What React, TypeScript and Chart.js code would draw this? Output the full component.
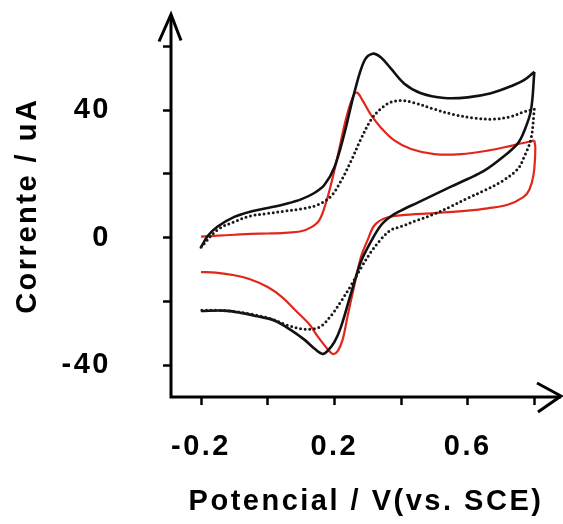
import React, { useEffect, useRef } from "react";
import { Chart, registerables } from "chart.js";

Chart.register(...registerables);

// Cyclic voltammograms: potential (V vs. SCE) against current (uA)

// Solid black curve, anodic (forward) sweep
const blackFwdE = [-0.2, -0.18, -0.15, -0.1, -0.05, 0.0, 0.05, 0.1, 0.14, 0.17, 0.2, 0.23, 0.26, 0.29, 0.315, 0.34, 0.37, 0.41, 0.46, 0.53, 0.6, 0.67, 0.73, 0.77, 0.8];
const blackFwdI = [-3, 0.5, 3.5, 6.5, 8.2, 9.3, 10.5, 12, 14, 16.5, 22, 32.6, 45.5, 55.5, 57.7, 56.5, 53, 48.3, 45.3, 43.8, 44, 45.3, 47.5, 49.5, 52];
// Solid black curve, cathodic (reverse) sweep
const blackRevE = [0.8, 0.79, 0.77, 0.75, 0.7, 0.65, 0.6, 0.55, 0.5, 0.45, 0.4, 0.37, 0.34, 0.31, 0.28, 0.25, 0.22, 0.2, 0.18, 0.165, 0.14, 0.11, 0.07, 0.02, -0.03, -0.08, -0.13, -0.2];
const blackRevI = [52, 40, 33.5, 29.5, 24.8, 21, 18.4, 16, 13.5, 11, 8.5, 6.7, 3.9, -1.2, -7.5, -17.5, -28, -32.8, -35.5, -36.5, -34.8, -32, -29, -26, -24.7, -23.6, -22.9, -23];

// Dotted black curve
const dottedFwdE = [-0.2, -0.15, -0.1, -0.05, 0.0, 0.05, 0.1, 0.15, 0.19, 0.22, 0.25, 0.28, 0.31, 0.34, 0.37, 0.4, 0.44, 0.5, 0.56, 0.62, 0.68, 0.73, 0.77, 0.8];
const dottedFwdI = [-3, 2.5, 5, 6.8, 7.6, 8.3, 9, 10.3, 13, 17.8, 24, 31, 37, 40.5, 42.5, 43, 42.3, 40.3, 38.6, 37.5, 37.2, 38, 39.5, 40.3];
const dottedRevE = [0.8, 0.79, 0.77, 0.75, 0.7, 0.65, 0.6, 0.55, 0.5, 0.45, 0.4, 0.37, 0.34, 0.31, 0.28, 0.25, 0.22, 0.19, 0.16, 0.13, 0.1, 0.06, 0.01, -0.05, -0.1, -0.15, -0.2];
const dottedRevI = [40.3, 31, 25.5, 21.5, 17.5, 14.8, 12.4, 9.8, 7.4, 5.5, 3.5, 2.4, -0.5, -4.5, -9.5, -15, -20, -24.5, -27.8, -28.7, -28.6, -27.5, -25.5, -24, -23.2, -22.8, -22.8];

// Red curve
const redFwdE = [-0.2, -0.15, -0.1, -0.05, 0.0, 0.05, 0.1, 0.13, 0.155, 0.175, 0.195, 0.215, 0.235, 0.255, 0.268, 0.285, 0.31, 0.34, 0.38, 0.43, 0.5, 0.58, 0.66, 0.73, 0.78, 0.8];
const redFwdI = [0.3, 0.6, 0.9, 1.2, 1.3, 1.5, 2, 3.2, 5.5, 11, 18.8, 28, 37.3, 44, 45.5, 43, 38.5, 34.5, 30.5, 27.8, 26.2, 26.2, 27.3, 28.8, 30, 30.5];
const redRevE = [0.8, 0.803, 0.798, 0.785, 0.767, 0.72, 0.66, 0.6, 0.5, 0.4, 0.35, 0.32, 0.3, 0.28, 0.26, 0.24, 0.225, 0.21, 0.196, 0.18, 0.15, 0.125, 0.08, 0.045, 0.0, -0.055, -0.1, -0.156, -0.2];
const redRevI = [30.5, 28, 20, 15, 12.7, 10.3, 9.2, 8.5, 7.7, 7, 6, 3.8, -0.7, -6, -15, -24.5, -32, -35.6, -36.5, -35, -31, -27.2, -22.5, -18.8, -15.5, -13, -11.8, -11, -10.8];

// Axis ticks and the subset of them that carry a label
const xTicks = [-0.2, 0, 0.2, 0.4, 0.6, 0.8];
const xTickLabels = ["-0.2", "", "0.2", "", "0.6", ""];
const yTicks = [-40, -20, 0, 20, 40, 60];
const yTickLabels = ["-40", "", "0", "", "40", ""];

const xTitle = "Potencial / V(vs. SCE)";
const yTitle = "Corrente / uA";

const toPoints = (xs: number[], ys: number[]) => xs.map((x, i) => ({ x, y: ys[i] }));

const labelFor = (ticks: number[], labels: string[]) => (value: number) => {
  const i = ticks.findIndex((t) => Math.abs(t - value) < 1e-6);
  return i >= 0 ? labels[i] : "";
};

const FONT = "'Liberation Sans', Arial, Helvetica, sans-serif";

// Axis lines with open arrowheads at their far ends
const axisArrows = {
  id: "axisArrows",
  beforeDraw(chart: any) {
    chart.ctx.letterSpacing = "2.5px";
  },
  afterDraw(chart: any) {
    const { ctx, chartArea } = chart;
    const { left, right, top, bottom } = chartArea;
    ctx.save();
    ctx.strokeStyle = "#000";
    ctx.lineWidth = 3;
    ctx.lineCap = "butt";
    ctx.lineJoin = "miter";
    ctx.beginPath();
    ctx.moveTo(left, bottom + 1.5);
    ctx.lineTo(left, top + 1);
    ctx.moveTo(left - 1.5, bottom);
    ctx.lineTo(right, bottom);
    ctx.stroke();
    ctx.beginPath();
    ctx.moveTo(left - 12, top + 27);
    ctx.lineTo(left, top);
    ctx.lineTo(left + 10, top + 26);
    ctx.stroke();
    ctx.beginPath();
    ctx.moveTo(right - 24, bottom - 14);
    ctx.lineTo(right, bottom - 1);
    ctx.lineTo(right - 23, bottom + 15);
    ctx.stroke();
    ctx.restore();
  },
};

const CHART_LEFT = 171;
const CHART_BOTTOM = 397;
const W = 563;
const H = 524;

export default function App() {
  const canvasRef = useRef<HTMLCanvasElement | null>(null);

  useEffect(() => {
    if (!canvasRef.current) return;
    const base = { showLine: true, pointRadius: 0, tension: 0.35, fill: false };
    const dotted = { ...base, borderColor: "#1a1a1a", borderWidth: 3, borderDash: [0, 4.6], borderCapStyle: "round" };
    const black = { ...base, borderColor: "#111111", borderWidth: 2.6 };
    const red = { ...base, borderColor: "#e3261c", borderWidth: 2.2 };
    const chart = new Chart(canvasRef.current, {
      type: "scatter",
      data: {
        datasets: [
          { ...dotted, data: toPoints(dottedFwdE, dottedFwdI) },
          { ...dotted, data: toPoints(dottedRevE, dottedRevI) },
          { ...black, data: toPoints(blackFwdE, blackFwdI) },
          { ...black, data: toPoints(blackRevE, blackRevI) },
          { ...red, data: toPoints(redFwdE, redFwdI) },
          { ...red, data: toPoints(redRevE, redRevI) },
        ] as any,
      },
      options: {
        responsive: false,
        animation: false,
        devicePixelRatio: 1,
        layout: { padding: { left: 0, top: 14.5, right: 2, bottom: 0 } },
        plugins: { legend: { display: false }, tooltip: { enabled: false } },
        scales: {
          x: {
            type: "linear",
            min: -0.29,
            max: 0.88,
            afterBuildTicks: (scale: any) => {
              scale.ticks = xTicks.map((value) => ({ value }));
            },
            afterFit: (scale: any) => {
              scale.height = H - CHART_BOTTOM;
              scale.paddingLeft = 0;
              scale.paddingRight = 0;
            },
            border: { display: false },
            grid: { drawOnChartArea: false, drawTicks: true, tickLength: 8, tickWidth: 2.5, tickColor: "#000" },
            ticks: {
              autoSkip: false,
              maxRotation: 0,
              padding: 25,
              color: "#000",
              font: { family: FONT, size: 29, weight: "bold" },
              callback: labelFor(xTicks, xTickLabels) as any,
            },
            title: {
              display: true,
              text: xTitle,
              color: "#000",
              font: { family: FONT, size: 29, weight: "bold" },
              padding: { top: 0, bottom: 5 },
            },
          },
          y: {
            type: "linear",
            min: -50,
            max: 70,
            afterBuildTicks: (scale: any) => {
              scale.ticks = yTicks.map((value) => ({ value }));
            },
            afterFit: (scale: any) => {
              scale.width = CHART_LEFT;
              scale.paddingTop = 0;
              scale.paddingBottom = 0;
            },
            border: { display: false },
            grid: { drawOnChartArea: false, drawTicks: true, tickLength: 8, tickWidth: 2.5, tickColor: "#000" },
            ticks: {
              padding: 52,
              color: "#000",
              font: { family: FONT, size: 29, weight: "bold" },
              callback: labelFor(yTicks, yTickLabels) as any,
            },
            title: {
              display: true,
              text: yTitle,
              color: "#000",
              font: { family: FONT, size: 29, weight: "bold" },
              padding: { top: 11, bottom: 0 },
            },
          },
        },
      } as any,
      plugins: [axisArrows],
    });
    return () => chart.destroy();
  }, []);

  return (
    <div style={{ position: "fixed", left: 0, top: 0, width: W, height: H, background: "#fff" }}>
      <canvas ref={canvasRef} width={W} height={H} style={{ width: W, height: H, display: "block" }} />
    </div>
  );
}
